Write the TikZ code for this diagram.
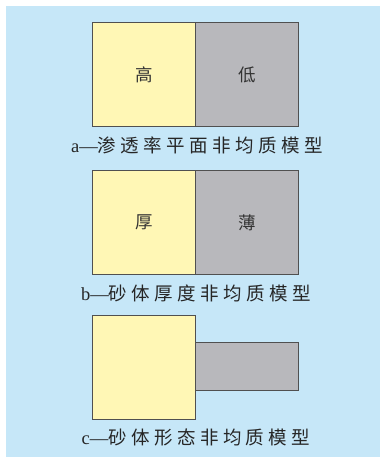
\documentclass[tikz,border=0pt]{standalone}
\usepackage{fontspec}
\setmainfont{Liberation Serif}
\newfontfamily\cjk{Noto Sans CJK SC}[LetterSpace=24]
\newfontfamily\cjkin{Noto Sans CJK SC}
\definecolor{bgblue}{HTML}{C6E7F8}
\definecolor{sandy}{HTML}{FFF7B5}
\definecolor{shale}{HTML}{B8B8BC}
\definecolor{edge}{HTML}{505050}
\begin{document}
\begin{tikzpicture}[x=1pt,y=-1pt,
  blk/.style={draw=edge,line width=1.1pt,minimum width=103pt,minimum height=104pt,inner sep=0pt,anchor=north west},
  ylw/.style={blk,fill=sandy},
  gry/.style={blk,fill=shale},
  captext/.style={font=\fontsize{18.5}{18.5}\selectfont,text=black!85,inner sep=0pt},
  intext/.style={font=\cjkin\fontsize{17.5}{17.5}\selectfont,text=black!80}]
\useasboundingbox (0,0) rectangle (380,457);
\fill[bgblue] (6,6) rectangle (380,457);
% a
\node[ylw] (a1) at (92,22) {};
\node[gry] (a2) at (195,22) {};
\node[intext] (ta1) at (a1.center) {高};
\node[intext] (ta2) at (a2.center) {低};
\node[captext] (la) at (197,145) {a—{\cjk 渗透率平面非均质模型}};
% b
\node[ylw] (b1) at (92,170) {};
\node[gry] (b2) at (195,170) {};
\node[intext] (tb1) at (b1.center) {厚};
\node[intext] (tb2) at (b2.center) {薄};
\node[captext] (lb) at (196,293) {b—{\cjk 砂体厚度非均质模型}};
% c
\node[ylw] (c1) at (92,315) {};
\node[gry,minimum height=48pt] (c2) at (195,342) {};
\node[captext] (lc) at (196,437) {c—{\cjk 砂体形态非均质模型}};
\end{tikzpicture}
\end{document}
